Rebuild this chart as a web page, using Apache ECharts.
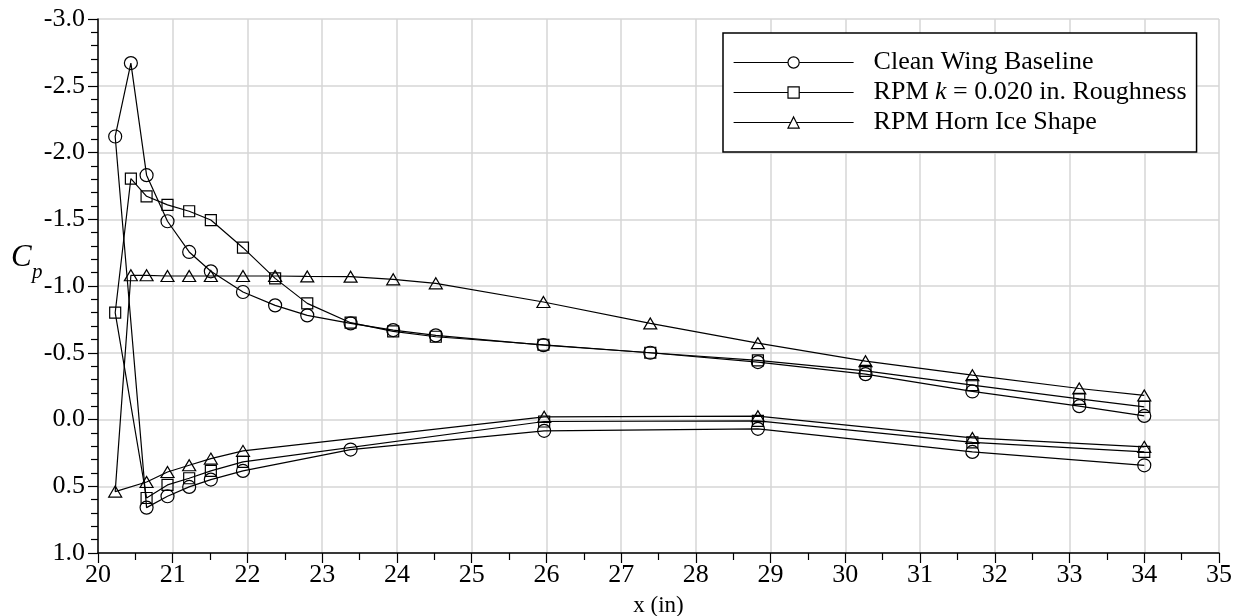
<!DOCTYPE html>
<html>
<head>
<meta charset="utf-8">
<script src="https://cdn.jsdelivr.net/npm/echarts@6/dist/echarts.min.js"></script>
<style>
  html, body { margin: 0; padding: 0; background: #fff; }
  #chart { width: 1242px; height: 616px; }
</style>
</head>
<body>
<div id="chart"></div>
<script>
// Chordwise stations (in). Lower surface runs trailing edge -> leading edge,
// then the leading-edge point, then the upper surface leading edge -> trailing edge.
const xLower = [34.0, 31.70, 28.83, 25.97, 23.38, 21.94, 21.51, 21.22, 20.93, 20.65];
const xLeading = 20.23;
const xUpper = [20.44, 20.65, 20.93, 21.22, 21.51, 21.94, 22.37, 22.80, 23.38, 23.95,
                24.52, 25.96, 27.39, 28.83, 30.27, 31.70, 33.13, 34.0];

// Pressure coefficient, clean wing
const cleanLower = [0.343, 0.243, 0.07, 0.085, 0.225, 0.385, 0.45, 0.505, 0.575, 0.66];
const cleanLeading = -2.12;
const cleanUpper = [-2.67, -1.83, -1.485, -1.255, -1.11, -0.955, -0.855, -0.78, -0.72, -0.67,
                    -0.63, -0.557, -0.50, -0.43, -0.34, -0.21, -0.10, -0.027];

// Pressure coefficient, k = 0.020 in. roughness (no lower tap at 23.38)
const roughLower = [0.243, 0.172, 0.01, 0.015, null, 0.318, 0.385, 0.44, 0.49, 0.588];
const roughLeading = -0.80;
const roughUpper = [-1.805, -1.672, -1.608, -1.56, -1.494, -1.287, -1.057, -0.87, -0.725, -0.66,
                    -0.62, -0.56, -0.50, -0.443, -0.364, -0.257, -0.155, -0.094];

// Pressure coefficient, horn ice shape (no lower tap at 23.38)
const hornLower = [0.205, 0.138, -0.025, -0.02, null, 0.235, 0.293, 0.343, 0.393, 0.468];
const hornLeading = 0.54;
const hornUpper = [-1.08, -1.08, -1.075, -1.075, -1.075, -1.075, -1.075, -1.072, -1.07, -1.05,
                   -1.02, -0.88, -0.72, -0.572, -0.437, -0.332, -0.232, -0.18];

const seriesNames = ['Clean Wing Baseline', 'RPM k = 0.020 in. Roughness', 'RPM Horn Ice Shape'];

function buildPoints(lower, leading, upper) {
  const pts = [];
  xLower.forEach((x, i) => pts.push([x, lower[i]]));
  pts.push([xLeading, leading]);
  xUpper.forEach((x, i) => pts.push([x, upper[i]]));
  return pts;
}

const FONT = '"Liberation Serif", "Times New Roman", serif';
const GRID_COLOR = '#d6d6d6';

function makeSeries(name, data, symbol, size) {
  return {
    name: name,
    type: 'line',
    data: data,
    connectNulls: true,
    symbol: symbol,
    symbolSize: size,
    showAllSymbol: true,
    lineStyle: { color: '#000', width: 1.2 },
    itemStyle: { color: 'rgba(0,0,0,0)', borderColor: '#000', borderWidth: 1.2 },
    emphasis: { disabled: true },
    animation: false
  };
}

const chart = echarts.init(document.getElementById('chart'), null, { renderer: 'canvas' });

chart.setOption({
  backgroundColor: '#fff',
  animation: false,
  grid: { left: 98, right: 23, top: 19, bottom: 63, containLabel: false, outerBoundsMode: 'none' },
  xAxis: {
    type: 'value',
    min: 20, max: 35, interval: 1,
    name: 'x (in)',
    nameLocation: 'middle',
    nameGap: 41,
    nameTextStyle: { fontFamily: FONT, fontSize: 23, color: '#000' },
    axisLine: { show: true, onZero: false, lineStyle: { color: '#000', width: 1.5 } },
    axisTick: { show: true, inside: false, length: 10, lineStyle: { color: '#000', width: 1.2 } },
    minorTick: { show: true, splitNumber: 2, length: 7, lineStyle: { color: '#000', width: 1.2 } },
    splitLine: { show: true, lineStyle: { color: GRID_COLOR, width: 1.5 } },
    axisLabel: { fontFamily: FONT, fontSize: 26, color: '#000', margin: 9 }
  },
  yAxis: {
    type: 'value',
    min: -3, max: 1, interval: 0.5,
    inverse: true,
    axisLine: { show: true, onZero: false, lineStyle: { color: '#000', width: 1.5 } },
    axisTick: { show: true, inside: false, length: 10, lineStyle: { color: '#000', width: 1.2 } },
    minorTick: { show: true, splitNumber: 5, length: 7, lineStyle: { color: '#000', width: 1.2 } },
    splitLine: { show: true, lineStyle: { color: GRID_COLOR, width: 1.5 } },
    axisLabel: {
      fontFamily: FONT, fontSize: 26, color: '#000', margin: 13,
      formatter: v => v.toFixed(1)
    }
  },
  legend: {
    orient: 'vertical',
    left: 723, top: 33,
    padding: [16, 10, 16, 10],
    itemWidth: 120,
    itemHeight: 14,
    itemGap: 3,
    align: 'left',
    backgroundColor: '#fff',
    borderColor: '#000',
    borderWidth: 1.5,
    borderRadius: 0,
    selectedMode: false,
    itemStyle: { color: '#fff', borderColor: '#000', borderWidth: 1.2 },
    lineStyle: { color: '#000', width: 1.2 },
    formatter: name => name === seriesNames[1]
      ? 'RPM {k|k} = 0.020 in. Roughness'
      : name,
    textStyle: {
      fontFamily: FONT, fontSize: 26, color: '#000', lineHeight: 27,
      padding: [0, 0, 0, 15],
      rich: {
        k: { fontFamily: FONT, fontSize: 26, fontStyle: 'italic', color: '#000', lineHeight: 27 }
      }
    },
    data: seriesNames
  },
  graphic: [
    {
      type: 'text', left: 11, top: 242,
      style: { text: 'C', font: 'italic 31px ' + FONT, fill: '#000' }
    },
    {
      type: 'text', left: 32, top: 262,
      style: { text: 'p', font: 'italic 21px ' + FONT, fill: '#000' }
    }
  ],
  series: [
    makeSeries(seriesNames[0], buildPoints(cleanLower, cleanLeading, cleanUpper), 'circle', 13),
    makeSeries(seriesNames[1], buildPoints(roughLower, roughLeading, roughUpper), 'rect', 11),
    makeSeries(seriesNames[2], buildPoints(hornLower, hornLeading, hornUpper), 'triangle', [13, 11])
  ]
});
</script>
</body>
</html>
